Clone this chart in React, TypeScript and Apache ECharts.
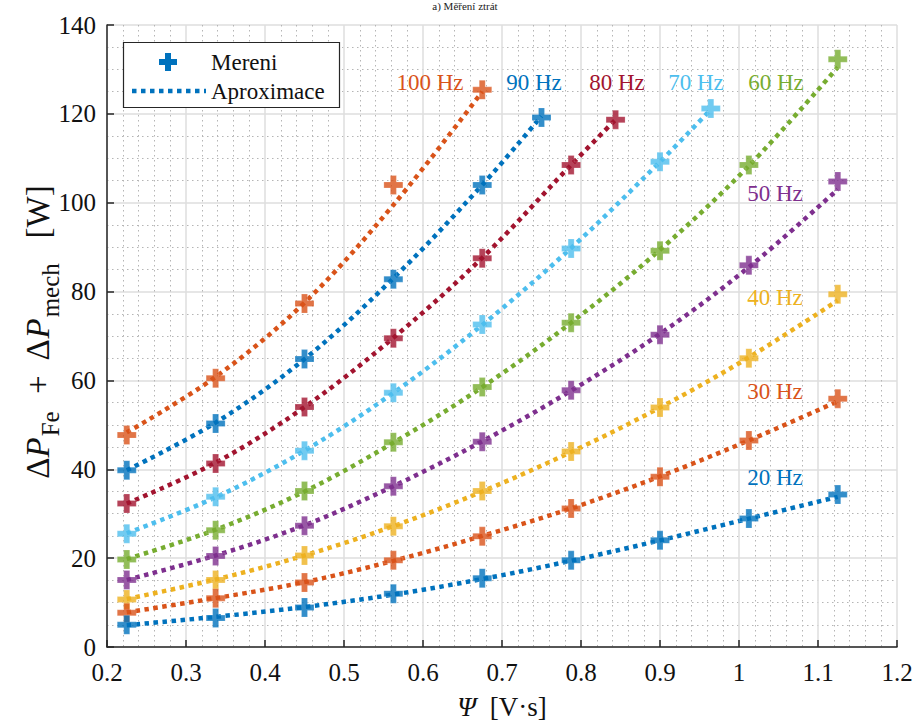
import React, { useEffect, useRef } from "react";
import * as echarts from "echarts";

// Flux linkage values (V·s) for each frequency
const psiBase = [0.225, 0.3375, 0.45, 0.5625, 0.675, 0.7875, 0.9, 1.0125, 1.125];
const psi100 = [0.225, 0.3375, 0.45, 0.5625, 0.675];
const psi90 = [0.225, 0.3375, 0.45, 0.5625, 0.675, 0.75];
const psi80 = [0.225, 0.3375, 0.45, 0.5625, 0.675, 0.7875, 0.84375];
const psi70 = [0.225, 0.3375, 0.45, 0.5625, 0.675, 0.7875, 0.9, 0.9643];

// Measured losses (W)
const meas100 = [47.7, 60.5, 77.3, 104, 125.4];
const meas90 = [39.8, 50.3, 64.8, 82.8, 104, 119.2];
const meas80 = [32.3, 41.3, 54, 69.5, 87.5, 108.5, 118.7];
const meas70 = [25.5, 33.8, 44.2, 57.2, 72.6, 89.7, 109.2, 121.2];
const meas60 = [19.7, 26.3, 35.1, 46.1, 58.5, 73, 89.2, 108.5, 132.3];
const meas50 = [15.1, 20.5, 27.3, 36.2, 46.2, 57.8, 70.3, 85.9, 104.8];
const meas40 = [10.7, 15.1, 20.6, 27.2, 35.1, 44, 53.9, 65, 79.4];
const meas30 = [7.7, 11, 14.5, 19.5, 24.9, 31.2, 38.3, 46.5, 55.9];
const meas20 = [5, 6.5, 8.9, 12, 15.5, 19.5, 24, 28.9, 34.3];

// Approximation curve values (W) at the same flux values
const fit100 = [48.3, 60.8, 77.5, 99.5, 125];
const fit90 = [39.8, 50.5, 64.8, 83, 104, 119.5];
const fit80 = [32.3, 41.5, 54, 69.6, 87.6, 108.5, 118.7];
const fit70 = [25.6, 33.7, 44.2, 57.2, 72.5, 89.8, 109.2, 121];
const fit60 = [19.8, 26.4, 35, 46, 58.5, 73, 89.4, 108.3, 130.5];
const fit50 = [15.1, 20.6, 27.4, 36.2, 46.3, 57.7, 70.5, 85.5, 103];
const fit40 = [10.8, 15.2, 20.6, 27.2, 35, 43.9, 53.9, 65.2, 78];
const fit30 = [7.8, 11, 14.6, 19.4, 25, 31.2, 38.4, 46.5, 55.3];
const fit20 = [4.9, 6.8, 9, 11.8, 15.3, 19.4, 24, 28.9, 33.8];

const freqLabels = ["100 Hz", "90 Hz", "80 Hz", "70 Hz", "60 Hz", "50 Hz", "40 Hz", "30 Hz", "20 Hz"];
const colors = ["#D95319", "#0072BD", "#A2142F", "#4DBEEE", "#77AC30", "#7E2F8E", "#EDB120", "#D95319", "#0072BD"];

const xTicks = [0.2, 1.2];
const yTicks = [0, 140];

const SERIF = "Liberation Serif";
const PLUS = "path://M6.5,0H12.5V6.5H19V12.5H12.5V19H6.5V12.5H0V6.5H6.5Z";

export default function App() {
  const ref = useRef<HTMLDivElement>(null);
  useEffect(() => {
    if (!ref.current) return;
    const chart = echarts.init(ref.current, null, { renderer: "svg" });
    const psis = [psi100, psi90, psi80, psi70, psiBase, psiBase, psiBase, psiBase, psiBase];
    const meas = [meas100, meas90, meas80, meas70, meas60, meas50, meas40, meas30, meas20];
    const fits = [fit100, fit90, fit80, fit70, fit60, fit50, fit40, fit30, fit20];

    const series: any[] = [];
    psis.forEach((px, i) => {
      series.push({
        type: "line",
        name: "Aproximace " + freqLabels[i],
        data: px.map((x, k) => [x, fits[i][k]]),
        showSymbol: false,
        smooth: 0.35,
        lineStyle: { color: colors[i], width: 4.5, type: [4.5, 4.5], cap: "butt" },
        z: 2,
        silent: true,
      });
    });
    psis.forEach((px, i) => {
      series.push({
        type: "scatter",
        name: "Mereni " + freqLabels[i],
        data: px.map((x, k) => [x, meas[i][k]]),
        symbol: PLUS,
        symbolSize: 19,
        itemStyle: { color: colors[i], borderColor: "rgba(255,255,255,0.5)", borderWidth: 0.5 },
        z: 3,
        silent: true,
      });
    });

    const labelStyle = { color: "#111", fontFamily: SERIF, fontSize: 25, fontWeight: "normal" as const };
    const axisCommon = {
      axisLine: { show: true, onZero: false, lineStyle: { color: "#262626", width: 1.5 } },
      axisTick: { show: true, inside: true, length: 7, lineStyle: { color: "#262626", width: 1.5 } },
      splitLine: { show: true, lineStyle: { color: "#dedede", width: 1.5 } },
    };

    const labelPos: [number, number][] = [
      [430, 82], [534, 82], [617, 82], [696, 82], [776, 82],
      [775, 193], [775, 297], [775, 391], [775, 477],
    ];

    const plusPts = (cx: number, cy: number, s: number, t: number) => {
      const a = s / 2, b = t / 2;
      return [
        [cx - b, cy - a], [cx + b, cy - a], [cx + b, cy - b], [cx + a, cy - b],
        [cx + a, cy + b], [cx + b, cy + b], [cx + b, cy + a], [cx - b, cy + a],
        [cx - b, cy + b], [cx - a, cy + b], [cx - a, cy - b], [cx - b, cy - b],
      ];
    };

    chart.setOption({
      animation: false,
      backgroundColor: "#ffffff",
      textStyle: { fontFamily: SERIF },
      grid: { left: 107, right: 20, top: 25, bottom: 75, containLabel: false },
      xAxis: {
        type: "value",
        min: xTicks[0],
        max: xTicks[1],
        interval: 0.1,
        ...axisCommon,
        axisLabel: {
          ...labelStyle,
          margin: 13,
          formatter: (v: number) => String(Math.round(v * 10) / 10),
        },
        minorTick: { show: false, splitNumber: 5 },
        minorSplitLine: { show: true, lineStyle: { color: "#b5b5b5", width: 1, type: [1.5, 3.5] } },
      },
      yAxis: {
        type: "value",
        min: yTicks[0],
        max: yTicks[1],
        interval: 20,
        ...axisCommon,
        axisLabel: { ...labelStyle, margin: 11 },
        minorTick: { show: false, splitNumber: 4 },
        minorSplitLine: { show: true, lineStyle: { color: "#b5b5b5", width: 1, type: [1.5, 3.5] } },
      },
      series,
      graphic: [
        // title (mostly outside the visible area in the reference)
        {
          type: "text",
          x: 465,
          y: 6,
          style: { text: "a) Měření ztrát", fontFamily: SERIF, fontSize: 11, fill: "#222", align: "center", verticalAlign: "middle" },
        },
        // y axis name
        {
          type: "text",
          x: 38,
          y: 332,
          rotation: Math.PI / 2,
          style: {
            text: "{n|Δ}{i|P}{s|Fe}{n|  +  Δ}{i|P}{s|mech}{n|   [W]}",
            align: "center",
            verticalAlign: "middle",
            fill: "#111",
            rich: {
              n: { fontFamily: SERIF, fontSize: 33, lineHeight: 34, verticalAlign: "top", fill: "#111" },
              i: { fontFamily: SERIF, fontSize: 33, fontStyle: "italic", lineHeight: 34, verticalAlign: "top", fill: "#111" },
              s: { fontFamily: SERIF, fontSize: 25, lineHeight: 26, padding: [17, 0, 0, 1], verticalAlign: "top", fill: "#111" },
            },
          },
        },
        // x axis name
        {
          type: "text",
          x: 502,
          y: 707,
          style: {
            text: "{i|Ψ}{n|  [V·s]}",
            align: "center",
            verticalAlign: "middle",
            rich: {
              n: { fontFamily: SERIF, fontSize: 27, fill: "#111" },
              i: { fontFamily: SERIF, fontSize: 27, fontStyle: "italic", fill: "#111" },
            },
          },
        },
        // frequency labels
        ...freqLabels.map((t, i) => ({
          type: "text",
          x: labelPos[i][0],
          y: labelPos[i][1],
          z: 50,
          style: { text: t, fontFamily: SERIF, fontSize: 23, fill: colors[i], align: "center", verticalAlign: "middle" },
        })),
        // legend
        {
          type: "group",
          z: 100,
          children: [
            { type: "rect", shape: { x: 123.5, y: 42.5, width: 216, height: 65 }, style: { fill: "#fff", stroke: "#262626", lineWidth: 1.2 }, z: 100 },
            { type: "polygon", shape: { points: plusPts(168, 62, 18, 6) }, style: { fill: "#0072BD" }, z: 101 },
            { type: "text", x: 211, y: 62, z: 101, style: { text: "Mereni", fontFamily: SERIF, fontSize: 23, fill: "#111", verticalAlign: "middle" } },
            { type: "line", shape: { x1: 132, y1: 91, x2: 206, y2: 91 }, style: { stroke: "#0072BD", lineWidth: 4.5, lineDash: [4.5, 4.5] }, z: 101 },
            { type: "text", x: 211, y: 91, z: 101, style: { text: "Aproximace", fontFamily: SERIF, fontSize: 23, fill: "#111", verticalAlign: "middle" } },
          ],
        },
      ],
    });
    return () => chart.dispose();
  }, []);
  return <div ref={ref} style={{ width: 917, height: 722, position: "absolute", left: 0, top: 0 }} />;
}
